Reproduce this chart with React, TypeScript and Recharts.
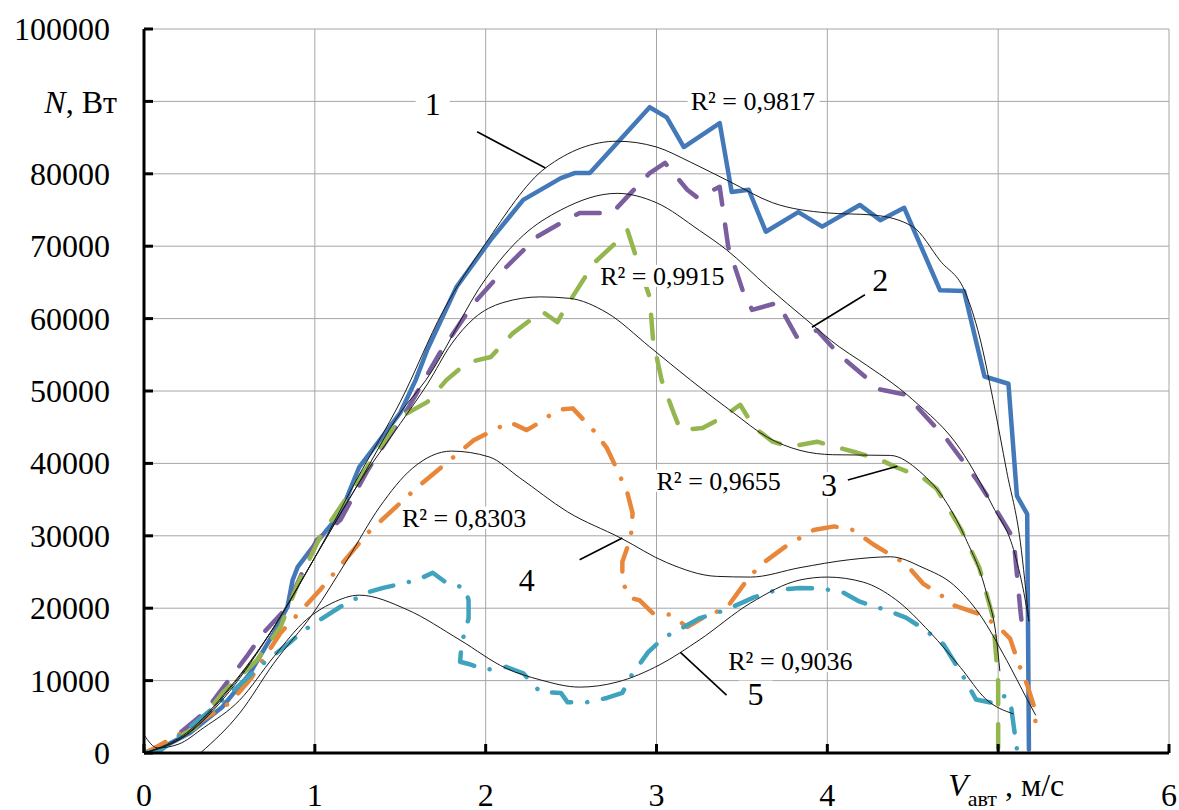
import React from 'react';
import { LineChart, Line, XAxis, YAxis, CartesianGrid, ReferenceLine, ReferenceDot } from 'recharts';

// measured curves (V, m/s -> N, W)
const s1X = [0, 0.08, 0.27, 0.46, 0.62, 0.76, 0.84, 0.87, 0.9, 0.99, 1.15, 1.26, 1.38, 1.5, 1.59, 1.66, 1.83, 2.03, 2.22, 2.44, 2.52, 2.61, 2.96, 3.06, 3.16, 3.37, 3.44, 3.54, 3.64, 3.83, 3.97, 4.19, 4.31, 4.45, 4.66, 4.8, 4.92, 5.06, 5.11, 5.17, 5.18];
const s1Y = [0, 400, 2800, 6400, 11000, 16600, 20200, 23900, 25700, 28500, 33100, 39500, 43200, 47000, 51500, 55800, 64400, 70900, 76400, 79400, 80100, 80100, 89200, 87800, 83700, 87000, 77500, 77800, 72000, 74700, 72700, 75700, 73600, 75300, 63900, 63800, 52000, 51000, 35500, 33000, 500];

const s2X = [0, 0.1, 0.35, 0.6, 0.7, 0.84, 0.89, 1.01, 1.15, 1.31, 1.46, 1.54, 1.73, 1.93, 2.12, 2.3, 2.44, 2.55, 2.74, 2.96, 3.05, 3.18, 3.24, 3.37, 3.42, 3.51, 3.56, 3.71, 3.82, 3.94, 4.07, 4.31, 4.46, 4.7, 4.87, 4.99, 5.09, 5.13, 5.14];
const s2Y = [0, 600, 5500, 13300, 16600, 20200, 23000, 29400, 32200, 39100, 44600, 47400, 55200, 62100, 67100, 71300, 73200, 74600, 74600, 80100, 81500, 77800, 76700, 78200, 69900, 63500, 61200, 62200, 57500, 58400, 55000, 50200, 49500, 43300, 37900, 33500, 29600, 19700, 17500];

const s3X = [0, 0.1, 0.3, 0.46, 0.66, 0.8, 0.91, 1.03, 1.19, 1.36, 1.5, 1.66, 1.77, 1.89, 2.03, 2.16, 2.33, 2.42, 2.46, 2.57, 2.64, 2.79, 2.83, 2.9, 2.96, 2.98, 3.03, 3.1, 3.14, 3.27, 3.39, 3.49, 3.57, 3.68, 3.78, 3.94, 4.17, 4.31, 4.4, 4.56, 4.64, 4.78, 4.89, 4.97, 5.0, 5.0];
const s3Y = [0, 900, 3500, 8300, 12800, 17500, 23900, 29800, 35400, 41400, 46400, 48500, 51500, 53900, 54700, 58000, 61000, 59500, 61200, 65300, 67800, 71100, 72200, 67100, 63000, 57000, 51500, 47000, 44600, 44900, 46400, 48100, 45000, 43000, 42300, 43000, 41500, 40500, 39500, 38000, 36500, 31000, 25600, 18700, 9900, 0];

const s4X = [0, 0.04, 0.2, 0.5, 0.62, 0.8, 1.03, 1.31, 1.6, 1.93, 2.14, 2.24, 2.32, 2.42, 2.51, 2.63, 2.71, 2.77, 2.83, 2.86, 2.85, 2.8, 2.8, 2.85, 2.9, 2.98, 3.08, 3.18, 3.3, 3.41, 3.53, 3.61, 3.76, 3.92, 4.04, 4.15, 4.27, 4.46, 4.56, 4.66, 4.74, 4.89, 4.99, 5.07, 5.12, 5.17, 5.21, 5.22];
const s4Y = [0, 400, 2500, 6900, 10100, 16600, 22500, 30400, 36700, 43200, 45700, 44600, 45700, 47400, 47600, 44600, 42100, 39100, 35900, 33100, 29800, 26400, 23600, 21400, 21100, 19300, 19100, 17400, 19100, 20000, 23900, 26000, 28600, 30800, 31300, 30800, 28800, 26100, 23400, 21900, 20400, 19200, 17700, 15800, 12300, 9400, 6400, 3900];

const s5X = [0, 0.1, 0.25, 0.46, 0.7, 0.85, 0.94, 1.03, 1.15, 1.31, 1.4, 1.6, 1.69, 1.77, 1.88, 1.9, 1.9, 1.86, 1.85, 1.9, 2.0, 2.12, 2.22, 2.32, 2.44, 2.48, 2.59, 2.71, 2.8, 2.86, 2.89, 2.95, 3.04, 3.16, 3.25, 3.41, 3.57, 3.7, 3.84, 3.97, 4.09, 4.19, 4.35, 4.46, 4.56, 4.68, 4.79, 4.87, 4.97, 5.03, 5.07, 5.09, 5.11];
const s5Y = [0, 400, 3200, 7300, 12400, 15200, 17000, 18400, 20200, 22200, 22800, 23900, 24900, 23500, 22800, 21100, 18600, 15200, 12600, 12300, 11500, 11900, 11000, 8400, 8300, 7000, 7000, 7600, 8300, 11000, 11900, 13900, 15900, 17400, 18600, 19800, 21500, 22500, 22800, 22700, 22200, 20900, 19700, 18700, 17200, 15000, 10800, 7400, 6900, 7900, 7400, 3900, 500];

// polynomial trend lines
const t1X = [0, 0.25, 0.5, 0.75, 1, 1.25, 1.5, 1.75, 2, 2.35, 2.77, 3, 3.2, 3.43, 3.68, 4, 4.27, 4.5, 4.66, 4.81, 4.89, 4.97, 5.05, 5.13, 5.18];
const t1Y = [0, 2800, 9000, 17000, 27000, 38000, 48500, 61000, 70400, 80800, 84500, 83700, 81600, 78900, 76000, 74600, 74300, 72700, 68000, 63500, 57600, 48800, 38900, 29100, 18200];
const t2X = [0, 0.25, 0.5, 0.75, 1, 1.25, 1.5, 1.65, 2, 2.22, 2.44, 2.77, 3, 3.25, 3.41, 3.65, 3.88, 4.07, 4.19, 4.5, 4.78, 4.97, 5.09, 5.15, 5.18];
const t2Y = [0, 2600, 8800, 17000, 27000, 37000, 47000, 51500, 65500, 71500, 75000, 77300, 76000, 72200, 69500, 64400, 59800, 56100, 54200, 48800, 41900, 34000, 28100, 22200, 18200];
const t3X = [0, 0.25, 0.5, 0.75, 1, 1.25, 1.5, 1.66, 1.8, 1.93, 2.1, 2.32, 2.49, 2.71, 2.96, 3.2, 3.45, 3.65, 3.84, 4.03, 4.37, 4.54, 4.7, 4.81, 4.93, 4.99, 5.01];
const t3Y = [0, 2500, 8500, 17000, 27000, 37000, 45500, 51000, 56500, 60000, 62200, 63000, 62800, 60800, 56100, 51500, 47000, 43600, 41800, 41200, 41100, 38900, 34500, 29600, 22200, 15800, 11300];
const t4X = [0.33, 0.56, 0.76, 0.99, 1.19, 1.38, 1.57, 1.8, 2.02, 2.2, 2.48, 2.79, 3.06, 3.35, 3.55, 3.84, 4.13, 4.37, 4.56, 4.74, 4.89, 5.05, 5.17, 5.22];
const t4Y = [0, 5500, 12400, 19300, 26700, 34000, 39300, 41700, 40900, 38000, 33300, 29700, 26300, 24400, 24300, 25600, 26700, 27100, 25600, 23200, 19200, 12800, 7400, 5200];
const t5X = [0, 0.08, 0.2, 0.35, 0.56, 0.76, 0.95, 1.1, 1.26, 1.54, 1.85, 2.12, 2.32, 2.55, 2.77, 3.02, 3.25, 3.55, 3.84, 4.0, 4.21, 4.4, 4.6, 4.78, 4.93, 5.09];
const t5Y = [2500, 700, 1200, 3500, 7300, 13300, 18400, 20700, 21800, 19800, 15600, 11700, 10100, 9100, 9800, 12200, 15600, 20700, 23900, 24300, 23600, 21200, 16700, 11800, 7400, 5400];

const xTicks = [0, 1, 2, 3, 4, 5, 6];
const yTicks = [0, 10000, 20000, 30000, 40000, 50000, 60000, 70000, 80000, 90000, 100000];

// curve numbers and R² labels: [text, x, y]
const curveNumbers: [string, number, number][] = [
  ['1', 1.69, 89600], ['2', 4.31, 65300], ['3', 4.01, 37000], ['4', 2.24, 23900], ['5', 3.58, 8200],
];
const leaders: [number, number, number, number][] = [
  [1.95, 85800, 2.35, 80800], [4.22, 63300, 3.91, 58800], [4.12, 37700, 4.41, 39600],
  [2.55, 26700, 2.8, 29700], [3.14, 13900, 3.41, 8000],
];
const r2Labels: [string, number, number][] = [
  ['R² = 0,9817', 3.2, 90000], ['R² = 0,9915', 2.67, 65900], ['R² = 0,9655', 3.0, 37600],
  ['R² = 0,8303', 1.51, 32500], ['R² = 0,9036', 3.42, 12700],
];

const zip = (xs: number[], ys: number[]) => xs.map((x, i) => ({ x, y: ys[i] }));

const FONT = '"Liberation Serif", "Times New Roman", serif';

const series = [
  { d: zip(s1X, s1Y), color: '#4479B9', dash: undefined },
  { d: zip(s2X, s2Y), color: '#7B5E9E', dash: '24 20' },
  { d: zip(s3X, s3Y), color: '#94B64F', dash: '24 20' },
  { d: zip(s4X, s4Y), color: '#E8873A', dash: '24 16 0.1 16' },
  { d: zip(s5X, s5Y), color: '#3FA3BE', dash: '24 16 0.1 16' },
];
const trends = [zip(t1X, t1Y), zip(t2X, t2Y), zip(t3X, t3Y), zip(t4X, t4Y), zip(t5X, t5Y)];

const XTick = ({ x, y, payload }: any) => {
  if (payload.value === 5) {
    return (
      <text x={x - 50} y={y + 43} fontFamily={FONT} fontSize={32} fill="#000">
        <tspan fontStyle="italic">V</tspan>
        <tspan fontSize={22} dy={10}>авт</tspan>
        <tspan dy={-10}> , м/с</tspan>
      </text>
    );
  }
  return (
    <text x={x} y={y + 53} textAnchor="middle" fontFamily={FONT} fontSize={32} fill="#000">
      {payload.value}
    </text>
  );
};

const YTick = ({ x, y, payload }: any) => {
  if (payload.value === 90000) {
    return (
      <text x={x + 7} y={y + 12} textAnchor="end" fontFamily={FONT} fontSize={32} fill="#000">
        <tspan fontStyle="italic">N</tspan>, Вт
      </text>
    );
  }
  return (
    <text x={x} y={y + 11} textAnchor="end" fontFamily={FONT} fontSize={32} fill="#000">
      {payload.value}
    </text>
  );
};

const boxedText = (text: string, size: number, anchor: 'start' | 'middle', w: number, h: number) =>
  (props: any) => {
    const { cx, cy } = props;
    const left = anchor === 'start' ? cx - 3 : cx - w / 2;
    return (
      <g>
        <rect x={left} y={cy - h / 2} width={w} height={h} fill="#fff" />
        <text x={cx} y={cy + size * 0.34} textAnchor={anchor} fontFamily={FONT} fontSize={size} fill="#000">
          {text}
        </text>
      </g>
    );
  };

export default function App() {
  return (
    <div style={{ position: 'fixed', left: 0, top: 0, width: 1179, height: 810, background: '#fff' }}>
      <LineChart width={1179} height={810} margin={{ top: 29, right: 10, bottom: 0, left: 0 }}>
        <CartesianGrid stroke="#A6A6A6" strokeWidth={1} />
        <XAxis
          type="number"
          dataKey="x"
          domain={[0, 6]}
          ticks={xTicks}
          allowDataOverflow
          height={57}
          axisLine={{ stroke: '#000', strokeWidth: 3 }}
          tickLine={{ stroke: '#000', strokeWidth: 3 }}
          tickSize={-9}
          tickMargin={9}
          tick={<XTick />}
          interval={0}
        />
        <YAxis
          type="number"
          dataKey="y"
          domain={[0, 100000]}
          ticks={yTicks}
          allowDataOverflow
          width={144}
          axisLine={{ stroke: '#000', strokeWidth: 3 }}
          tickLine={{ stroke: '#000', strokeWidth: 3 }}
          tickSize={-9}
          tickMargin={43}
          tick={<YTick />}
          interval={0}
        />
        {series.map((s, i) => (
          <Line
            key={'s' + i}
            data={s.d}
            dataKey="y"
            type="linear"
            stroke={s.color}
            strokeWidth={4.5}
            strokeDasharray={s.dash}
            strokeLinecap="round"
            strokeLinejoin="round"
            dot={false}
            activeDot={false}
            isAnimationActive={false}
          />
        ))}
        {trends.map((t, i) => (
          <Line
            key={'t' + i}
            data={t}
            dataKey="y"
            type="monotone"
            stroke="#1a1a1a"
            strokeWidth={1}
            dot={false}
            activeDot={false}
            isAnimationActive={false}
          />
        ))}
        {leaders.map(([x1, y1, x2, y2], i) => (
          <ReferenceLine
            key={'l' + i}
            segment={[{ x: x1, y: y1 }, { x: x2, y: y2 }]}
            stroke="#000"
            strokeWidth={1.6}
            zIndex={900}
          />
        ))}
        {r2Labels.map(([text, x, y], i) => (
          <ReferenceDot
            key={'r' + i}
            x={x}
            y={y}
            r={0}
            zIndex={1000}
            shape={boxedText(text, 26, 'start', 132, 22)}
          />
        ))}
        {curveNumbers.map(([text, x, y], i) => (
          <ReferenceDot
            key={'n' + i}
            x={x}
            y={y}
            r={0}
            zIndex={1000}
            shape={boxedText(text, 32, 'middle', 34, 26)}
          />
        ))}
      </LineChart>
    </div>
  );
}
